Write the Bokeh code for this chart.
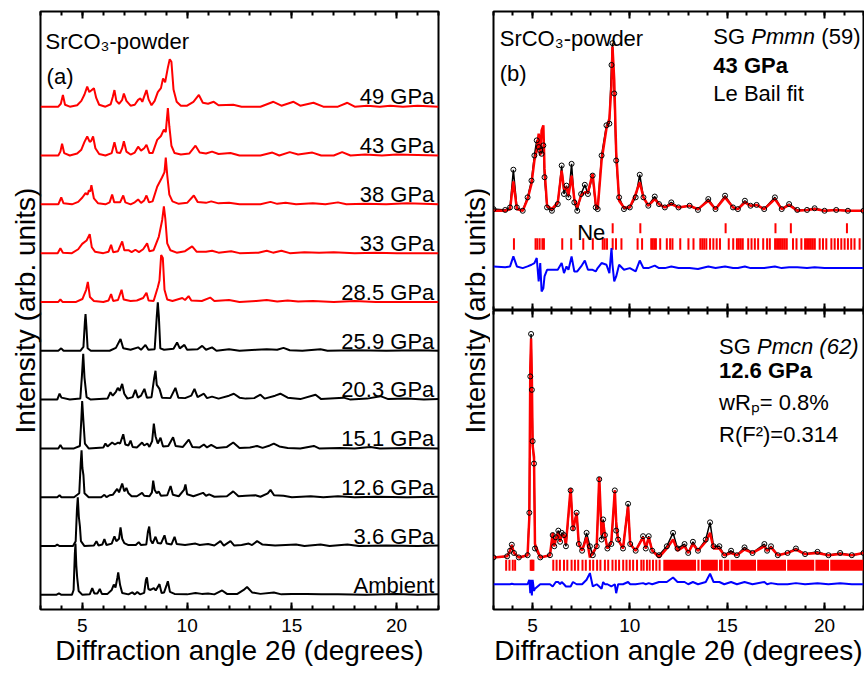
from bokeh.plotting import figure
from bokeh.models import Range1d, LinearAxis, FixedTicker
from bokeh.layouts import row, column
from bokeh.embed import file_html
from bokeh.resources import INLINE
from bokeh.core.properties import value

FONT = "Liberation Sans"

# ---------------- data: panel (a) stacked patterns (2theta, intensity) ----------------
pat_49 = [(3.0,0),(3.85,0.0),(3.97,0.06),(4.07,0.24),(4.17,0.04),(4.4,0.0),(4.75,0.03),(4.95,0.12),(5.1,0.25),(5.23,0.41),(5.33,0.3),(5.42,0.33),(5.55,0.38),(5.66,0.18),(5.8,0.04),(6.1,0.0),(6.35,0.05),(6.45,0.2),(6.53,0.34),(6.62,0.12),(6.75,0.06),(6.9,0.14),(6.98,0.27),(7.1,0.12),(7.3,0.02),(7.5,0.04),(7.66,0.14),(7.77,0.17),(7.86,0.1),(7.96,0.22),(8.06,0.34),(8.16,0.15),(8.3,0.03),(8.45,0.12),(8.6,0.3),(8.75,0.38),(8.85,0.58),(8.95,0.5),(9.08,0.8),(9.17,0.97),(9.25,0.92),(9.35,0.35),(9.5,0.1),(9.7,0.02),(10.0,0.02),(10.3,0.1),(10.56,0.24),(10.75,0.08),(11.0,0.06),(11.27,0.1),(11.5,0.03),(12.2,0.04),(12.6,0.0),(13.5,0.0),(14.12,0.1),(14.5,0.02),(15.08,0.1),(15.4,0.02),(16.03,0.08),(16.5,0.0),(17.2,0.0),(17.65,0.08),(18.0,0.0),(18.6,0.02),(19.2,0.0),(19.7,0.02),(20.3,0.0),(21.0,0.02),(22.0,0.0)]
pat_43 = [(3.0,0),(3.85,0.0),(3.95,0.08),(4.03,0.24),(4.13,0.05),(4.4,0.0),(4.75,0.04),(4.95,0.12),(5.1,0.28),(5.23,0.39),(5.35,0.28),(5.42,0.3),(5.51,0.39),(5.62,0.15),(5.8,0.03),(6.1,0.0),(6.4,0.05),(6.53,0.27),(6.65,0.06),(6.8,0.05),(6.9,0.15),(6.98,0.29),(7.1,0.08),(7.3,0.02),(7.5,0.06),(7.66,0.18),(7.8,0.1),(7.95,0.15),(8.06,0.22),(8.2,0.05),(8.35,0.05),(8.57,0.32),(8.75,0.4),(8.89,0.53),(8.98,0.48),(9.08,0.97),(9.15,0.6),(9.25,0.2),(9.4,0.05),(9.7,0.02),(10.1,0.04),(10.4,0.2),(10.6,0.06),(10.9,0.04),(11.19,0.08),(11.5,0.03),(12.07,0.05),(12.5,0.0),(13.5,0.0),(14.07,0.06),(14.4,0.0),(14.9,0.07),(15.3,0.02),(15.98,0.06),(16.4,0.0),(17.0,0.0),(17.4,0.07),(17.8,0.0),(18.5,0.02),(19.3,0.0),(20.0,0.02),(21.0,0.01),(22.0,0.0)]
pat_38 = [(3.0,0),(3.85,0.0),(3.99,0.14),(4.1,0.02),(4.5,0.0),(4.8,0.05),(5.0,0.14),(5.15,0.23),(5.25,0.2),(5.31,0.29),(5.37,0.26),(5.43,0.39),(5.55,0.12),(5.75,0.02),(6.1,0.0),(6.3,0.04),(6.42,0.2),(6.52,0.04),(6.8,0.04),(6.95,0.18),(7.05,0.04),(7.3,0.0),(7.5,0.04),(7.66,0.1),(7.8,0.03),(7.95,0.08),(8.06,0.18),(8.18,0.04),(8.35,0.06),(8.57,0.36),(8.8,0.55),(8.92,0.66),(8.98,0.96),(9.05,0.6),(9.15,0.2),(9.3,0.06),(9.6,0.01),(10.0,0.03),(10.32,0.18),(10.5,0.05),(10.9,0.03),(11.15,0.06),(11.5,0.02),(12.0,0.03),(12.5,0.0),(13.5,0.0),(13.98,0.05),(14.3,0.01),(14.7,0.03),(15.2,0.0),(16.0,0.02),(16.6,0.0),(17.2,0.04),(17.6,0.0),(18.5,0.01),(19.5,0.0),(20.5,0.02),(22.0,0.0)]
pat_33 = [(3.0,0),(3.82,0.0),(3.95,0.1),(4.07,0.01),(4.5,0.0),(4.8,0.08),(4.99,0.19),(5.2,0.26),(5.35,0.39),(5.45,0.12),(5.6,0.03),(6.0,0.0),(6.25,0.03),(6.37,0.17),(6.47,0.02),(6.7,0.04),(6.9,0.24),(7.0,0.06),(7.2,0.06),(7.35,0.02),(7.53,0.07),(7.7,0.02),(7.9,0.08),(8.09,0.2),(8.2,0.04),(8.4,0.06),(8.65,0.34),(8.81,0.68),(8.89,0.96),(8.96,0.7),(9.05,0.2),(9.2,0.06),(9.5,0.01),(9.9,0.04),(10.24,0.14),(10.45,0.03),(10.9,0.03),(11.19,0.05),(11.5,0.01),(12.1,0.04),(12.5,0.0),(13.4,0.01),(13.8,0.05),(14.1,0.01),(14.5,0.05),(14.9,0.0),(15.6,0.02),(16.3,0.01),(17.0,0.02),(18.0,0.0),(19.0,0.01),(20.0,0.0),(22.0,0.0)]
pat_28_5 = [(3.0,0),(3.85,0.0),(3.95,0.05),(4.05,0.0),(4.7,0.0),(5.0,0.06),(5.18,0.25),(5.26,0.41),(5.36,0.1),(5.55,0.02),(6.0,0.0),(6.25,0.03),(6.37,0.16),(6.47,0.02),(6.7,0.04),(6.87,0.25),(6.97,0.05),(7.3,0.02),(7.6,0.03),(7.9,0.08),(8.06,0.19),(8.16,0.03),(8.4,0.02),(8.6,0.3),(8.68,0.44),(8.76,0.96),(8.84,0.9),(8.92,0.25),(9.05,0.05),(9.3,0.02),(9.77,0.08),(9.9,0.04),(10.07,0.12),(10.2,0.03),(10.7,0.02),(11.1,0.09),(11.3,0.02),(12.0,0.04),(12.5,0.0),(13.3,0.02),(13.8,0.04),(14.3,0.01),(14.8,0.03),(15.3,0.01),(16.0,0.02),(17.0,0.0),(18.0,0.02),(19.0,0.0),(22.0,0.0)]
pat_25_9 = [(3.0,0),(3.85,0.0),(3.99,0.05),(4.1,0.0),(4.9,0.0),(5.05,0.08),(5.12,0.6),(5.15,0.75),(5.19,0.5),(5.25,0.05),(5.4,0.0),(6.3,0.0),(6.6,0.06),(6.82,0.24),(6.95,0.05),(7.3,0.02),(7.66,0.07),(7.8,0.02),(8.01,0.12),(8.15,0.02),(8.45,0.03),(8.55,0.7),(8.6,0.99),(8.65,0.7),(8.72,0.05),(8.9,0.02),(9.35,0.04),(9.52,0.17),(9.65,0.05),(9.87,0.12),(10.0,0.02),(10.5,0.03),(10.72,0.1),(10.9,0.02),(11.19,0.07),(11.4,0.0),(12.0,0.03),(12.5,0.0),(13.3,0.02),(13.8,0.03),(14.3,0.02),(14.6,0.06),(14.9,0.01),(15.5,0.0),(16.37,0.03),(16.7,0.0),(18.0,0.01),(19.5,0.0),(21.0,0.01),(22.0,0.0)]
pat_20_3 = [(3.0,0),(3.8,0.0),(3.91,0.12),(4.0,0.04),(4.4,0.0),(4.9,0.02),(4.98,0.5),(5.04,0.94),(5.1,0.45),(5.2,0.05),(5.4,0.0),(6.2,0.02),(6.34,0.15),(6.45,0.08),(6.6,0.16),(6.69,0.24),(6.78,0.18),(6.9,0.32),(7.0,0.12),(7.15,0.02),(7.4,0.05),(7.53,0.2),(7.65,0.04),(7.8,0.08),(7.96,0.22),(8.08,0.04),(8.3,0.05),(8.43,0.45),(8.49,0.59),(8.55,0.3),(8.68,0.22),(8.8,0.04),(9.2,0.03),(9.44,0.24),(9.58,0.04),(9.9,0.03),(10.2,0.08),(10.35,0.22),(10.5,0.05),(10.8,0.12),(10.95,0.03),(11.19,0.06),(11.5,0.02),(12.0,0.08),(12.23,0.12),(12.5,0.04),(12.8,0.02),(13.2,0.03),(13.5,0.1),(13.7,0.02),(14.2,0.08),(14.45,0.12),(14.8,0.04),(15.4,0.01),(16.13,0.1),(16.4,0.01),(17.47,0.04),(17.8,0.0),(18.6,0.02),(19.23,0.07),(19.6,0.01),(20.5,0.02),(21.3,0.0),(22.0,0.01)]
pat_15_1 = [(3.0,0),(3.85,0.0),(3.95,0.07),(4.05,0.0),(4.6,0.0),(4.88,0.05),(4.95,0.6),(4.99,0.97),(5.05,0.55),(5.12,0.1),(5.3,0.0),(6.0,0.02),(6.1,0.1),(6.2,0.04),(6.42,0.12),(6.55,0.08),(6.7,0.12),(6.8,0.1),(6.95,0.29),(7.05,0.08),(7.2,0.06),(7.3,0.16),(7.4,0.03),(7.6,0.02),(7.85,0.12),(7.95,0.06),(8.1,0.1),(8.2,0.03),(8.33,0.15),(8.41,0.51),(8.49,0.25),(8.6,0.1),(8.73,0.22),(8.85,0.04),(9.1,0.05),(9.33,0.23),(9.45,0.05),(9.8,0.03),(10.08,0.18),(10.25,0.03),(10.6,0.02),(10.8,0.08),(10.95,0.02),(11.15,0.07),(11.4,0.01),(11.9,0.03),(12.2,0.12),(12.5,0.01),(13.0,0.02),(13.34,0.05),(13.6,0.01),(13.95,0.06),(14.14,0.1),(14.4,0.04),(14.8,0.01),(15.4,0.0),(16.05,0.05),(16.3,0.0),(17.3,0.01),(18.0,0.0),(18.75,0.03),(19.2,0.0),(20.5,0.01),(22.0,0.0)]
pat_12_6 = [(3.0,0),(3.8,0.0),(3.91,0.04),(4.0,0.0),(4.6,0.0),(4.85,0.08),(4.92,0.7),(4.96,0.96),(5.0,0.6),(5.05,0.45),(5.1,0.08),(5.3,0.0),(5.9,0.0),(6.05,0.05),(6.15,0.0),(6.3,0.04),(6.45,0.05),(6.66,0.17),(6.75,0.1),(6.9,0.28),(7.0,0.12),(7.1,0.19),(7.2,0.08),(7.35,0.02),(7.6,0.02),(7.85,0.09),(7.95,0.03),(8.2,0.02),(8.32,0.1),(8.38,0.34),(8.45,0.15),(8.55,0.08),(8.64,0.12),(8.75,0.03),(9.05,0.04),(9.21,0.23),(9.32,0.05),(9.6,0.02),(9.85,0.15),(9.92,0.26),(10.0,0.06),(10.3,0.02),(10.76,0.09),(10.9,0.03),(11.05,0.06),(11.3,0.01),(11.9,0.02),(12.2,0.12),(12.45,0.02),(12.8,0.03),(13.26,0.04),(13.5,0.01),(13.85,0.08),(13.98,0.15),(14.15,0.04),(14.6,0.03),(15.0,0.0),(15.9,0.02),(16.5,0.0),(17.2,0.02),(18.0,0.0),(19.0,0.01),(20.5,0.0),(22.0,0.01)]
pat_3_6 = [(3.0,0),(3.7,0.0),(3.8,0.03),(3.9,0.0),(4.55,0.0),(4.68,0.1),(4.74,0.75),(4.78,1.0),(4.83,0.6),(4.88,0.41),(4.93,0.1),(5.1,0.0),(5.55,0.01),(5.67,0.1),(5.77,0.01),(5.95,0.03),(6.05,0.14),(6.15,0.02),(6.4,0.05),(6.53,0.2),(6.62,0.1),(6.75,0.15),(6.82,0.38),(6.9,0.15),(7.0,0.06),(7.2,0.02),(7.55,0.02),(7.69,0.08),(7.8,0.02),(8.05,0.03),(8.13,0.3),(8.19,0.4),(8.26,0.12),(8.35,0.05),(8.49,0.19),(8.6,0.06),(8.75,0.05),(8.92,0.22),(9.02,0.05),(9.25,0.03),(9.4,0.19),(9.5,0.04),(9.9,0.02),(10.4,0.05),(10.6,0.02),(11.0,0.04),(11.3,0.01),(11.59,0.1),(11.75,0.01),(12.07,0.1),(12.25,0.01),(12.6,0.02),(12.94,0.05),(13.1,0.02),(13.34,0.1),(13.6,0.03),(14.2,0.01),(15.2,0.03),(15.6,0.0),(16.37,0.03),(16.8,0.0),(17.65,0.03),(18.2,0.0),(19.5,0.01),(21.0,0.0),(22.0,0.01)]
pat_amb = [(3.0,0),(3.75,0.0),(3.88,0.03),(4.0,0.0),(4.5,0.0),(4.58,0.1),(4.64,0.85),(4.67,1.05),(4.71,0.6),(4.75,0.36),(4.82,0.08),(5.0,0.0),(5.35,0.01),(5.47,0.14),(5.57,0.03),(5.72,0.03),(5.83,0.12),(5.93,0.02),(6.2,0.02),(6.4,0.1),(6.5,0.21),(6.58,0.15),(6.67,0.35),(6.71,0.46),(6.8,0.2),(6.9,0.04),(7.2,0.01),(7.38,0.05),(7.5,0.01),(7.62,0.06),(7.75,0.01),(7.95,0.04),(8.03,0.3),(8.08,0.36),(8.15,0.12),(8.25,0.1),(8.41,0.14),(8.5,0.09),(8.68,0.22),(8.78,0.04),(8.9,0.05),(9.02,0.2),(9.08,0.28),(9.18,0.06),(9.4,0.02),(10.0,0.01),(10.4,0.04),(10.7,0.02),(11.0,0.03),(11.3,0.01),(11.67,0.09),(11.9,0.02),(12.4,0.02),(12.7,0.1),(12.86,0.16),(13.1,0.05),(13.5,0.02),(14.14,0.05),(14.5,0.01),(15.0,0.02),(15.7,0.02),(16.4,0.01),(17.2,0.01),(18.5,0.0),(20.0,0.02),(21.0,0.0),(22.0,0.01)]

patterns_a = [pat_amb, pat_3_6, pat_12_6, pat_15_1, pat_20_3, pat_25_9, pat_28_5, pat_33, pat_38, pat_43, pat_49]
pressure_labels = ["Ambient", "3.6 GPa", "12.6 GPa", "15.1 GPa", "20.3 GPa", "25.9 GPa", "28.5 GPa", "33 GPa", "38 GPa", "43 GPa", "49 GPa"]
high_pressure_phase = [False, False, False, False, False, False, True, True, True, True, True]

# ---------------- data: panel (b) top, 43 GPa Le Bail fit ----------------
fit43_tth  = [3.0,3.6,3.85,4.02,4.2,4.5,4.75,4.95,5.1,5.22,5.32,5.4,5.47,5.56,5.62,5.75,6.0,6.3,6.5,6.62,6.75,6.85,7.01,7.15,7.3,7.5,7.69,7.85,8.09,8.25,8.35,8.55,8.8,8.95,9.06,9.11,9.2,9.3,9.45,9.7,10.0,10.3,10.51,10.7,10.95,11.28,11.5,11.8,12.13,12.5,13.07,13.5,14.03,14.4,14.89,15.3,15.55,15.91,16.2,16.51,16.9,17.45,17.8,18.18,18.6,19.1,19.49,20.0,20.6,21.2,22.0]
fit43_obs  = [0.01,0.005,0.02,0.245,0.02,0.0,0.08,0.18,0.33,0.42,0.38,0.36,0.34,0.39,0.2,0.02,0.0,0.04,0.27,0.1,0.15,0.08,0.28,0.05,0.0,0.1,0.155,0.1,0.21,0.02,0.01,0.33,0.51,0.52,0.87,1.0,0.7,0.3,0.08,0.01,0.02,0.08,0.215,0.08,0.03,0.085,0.04,0.02,0.05,0.02,0.03,0.005,0.07,0.01,0.09,0.02,0.01,0.06,0.03,0.035,0.01,0.08,0.01,0.04,0.005,0.005,0.015,0.0,0.005,0.0,0.0]
fit43_calc = [0.0,0.0,0.01,0.175,0.01,0.0,0.07,0.16,0.3,0.36,0.46,0.33,0.48,0.51,0.25,0.03,0.01,0.05,0.24,0.13,0.14,0.09,0.21,0.07,0.02,0.09,0.11,0.11,0.22,0.04,0.01,0.3,0.49,0.55,0.75,0.98,0.78,0.35,0.06,0.02,0.02,0.1,0.17,0.08,0.03,0.07,0.04,0.02,0.04,0.02,0.03,0.01,0.06,0.01,0.08,0.02,0.01,0.05,0.03,0.035,0.01,0.07,0.01,0.035,0.0,0.005,0.01,0.0,0.005,0.0,0.0]
ne_reflections = [9.12, 10.54, 14.92, 17.48, 18.27, 21.15]
pmmn_reflections = [4.05,5.16,5.25,5.37,5.51,5.59,6.53,6.99,7.61,8.1,8.61,8.71,8.83,9.12,9.29,9.57,10.4,10.63,11.1,11.18,11.26,11.34,11.56,11.9,12.07,12.19,12.59,13.01,13.27,13.62,13.72,13.82,13.93,14.12,14.29,14.46,14.63,15.08,15.31,15.5,15.6,15.7,15.8,16.08,16.25,16.42,16.59,16.85,17.05,17.19,17.46,17.56,17.66,17.76,17.86,17.96,18.06,18.38,18.56,18.81,19.0,19.1,19.2,19.3,19.4,19.5,19.75,19.92,20.09,20.35,20.52,20.69,20.86,21.03,21.2,21.37,21.54,21.8]

# ---------------- data: panel (b) bottom, 12.6 GPa Rietveld fit ----------------
fit126_tth  = [3.0,3.7,3.85,3.94,4.05,4.3,4.75,4.84,4.89,4.93,4.97,5.01,5.08,5.13,5.4,5.9,6.04,6.12,6.2,6.33,6.42,6.5,6.62,6.72,6.96,7.08,7.27,7.38,7.55,7.78,7.95,8.1,8.3,8.43,8.55,8.63,8.72,8.85,9.05,9.23,9.3,9.4,9.65,9.91,10.02,10.3,10.68,10.82,10.97,11.15,11.5,11.9,12.22,12.45,12.81,13.0,13.24,13.5,13.9,14.12,14.3,14.6,14.85,15.2,15.5,15.89,16.3,16.91,17.05,17.25,17.6,18.1,18.53,19.0,19.64,20.2,20.8,21.4,22.0]
fit126_obs  = [0.0,0.005,0.03,0.057,0.02,0.0,0.01,0.2,0.81,1.0,0.75,0.52,0.42,0.04,0.0,0.01,0.1,0.05,0.09,0.12,0.07,0.11,0.1,0.05,0.3,0.13,0.2,0.06,0.03,0.11,0.05,0.01,0.05,0.35,0.08,0.17,0.1,0.04,0.06,0.3,0.12,0.08,0.04,0.24,0.06,0.03,0.095,0.04,0.095,0.03,0.01,0.05,0.11,0.04,0.06,0.02,0.07,0.03,0.08,0.157,0.05,0.05,0.01,0.03,0.01,0.045,0.02,0.06,0.03,0.05,0.01,0.02,0.04,0.015,0.025,0.01,0.02,0.01,0.02]
fit126_calc = [0.0,0.005,0.03,0.055,0.02,0.0,0.01,0.18,0.85,0.98,0.8,0.5,0.45,0.06,0.0,0.01,0.11,0.05,0.08,0.11,0.07,0.1,0.1,0.06,0.31,0.12,0.2,0.06,0.03,0.09,0.0,0.02,0.05,0.36,0.1,0.16,0.1,0.04,0.07,0.3,0.16,0.08,0.04,0.23,0.06,0.03,0.09,0.04,0.09,0.03,0.0,0.04,0.08,0.03,0.05,0.02,0.06,0.03,0.07,0.11,0.04,0.04,0.01,0.02,0.01,0.035,0.02,0.05,0.03,0.045,0.01,0.02,0.035,0.015,0.02,0.01,0.015,0.01,0.02]
pmcn_reflections = [3.65,3.82,3.99,4.11,4.91,4.96,5.0,5.05,6.07,6.24,6.41,6.62,6.79,7.01,7.18,7.35,7.57,7.74,7.95,8.12,8.32,8.49,8.72,8.89,9.11,9.28,9.45,9.66,9.83,10.0,10.17,10.37,10.59,10.71,10.88,11.02,11.19,11.36,11.53]
pmcn_dense_ranges = [(11.72,13.40),(13.47,13.58),(13.65,14.52),(14.58,14.77),(14.83,15.11),(15.17,16.48),(16.54,18.02),(18.08,19.47),(19.53,20.23),(20.29,22.0)]

major_ticks = [5, 10, 15, 20]
minor_ticks = list(range(3, 23))
x_title = "Diffraction angle 2θ (degrees)"
y_title = "Intensity (arb. units)"

RED = "#ff0000"
BLUE = "#0000ff"
TOTAL_H = 676


def tick_axis(labels):
    ax = LinearAxis(ticker=FixedTicker(ticks=major_ticks, minor_ticks=minor_ticks))
    ax.major_tick_in = 7
    ax.major_tick_out = 0
    ax.minor_tick_in = 4
    ax.minor_tick_out = 0
    ax.major_tick_line_width = 2
    ax.minor_tick_line_width = 2
    ax.major_tick_line_color = "black"
    ax.minor_tick_line_color = "black"
    ax.axis_line_color = None
    if labels:
        ax.major_label_text_font = FONT
        ax.major_label_text_font_size = "19px"
        ax.major_label_text_color = "black"
        ax.major_label_standoff = 9
        ax.axis_label = x_title
        ax.axis_label_text_font = FONT
        ax.axis_label_text_font_size = "28px"
        ax.axis_label_text_font_style = "normal"
        ax.axis_label_text_color = "black"
        ax.axis_label_standoff = 0
    else:
        ax.major_label_text_color = None
        ax.major_label_text_font_size = "0px"
        ax.major_label_standoff = 0
    return ax


def title_axis():
    ax = LinearAxis(ticker=FixedTicker(ticks=[]), axis_label=y_title)
    ax.axis_label_text_font = FONT
    ax.axis_label_text_font_size = "28px"
    ax.axis_label_text_font_style = "normal"
    ax.axis_label_text_color = "black"
    ax.axis_label_standoff = 0
    ax.major_label_standoff = 0
    ax.major_label_text_color = None
    ax.major_label_text_font_size = "0px"
    ax.major_tick_in = 0
    ax.major_tick_out = 0
    ax.minor_tick_in = 0
    ax.minor_tick_out = 0
    ax.axis_line_color = None
    return ax


def base_fig(width, height, yr, **borders):
    p = figure(width=width, height=height, x_range=Range1d(3, 22), y_range=yr,
               x_axis_type=None, y_axis_type=None,
               output_backend="svg", toolbar_location=None, **borders)
    p.outline_line_color = "black"
    p.outline_line_width = 2
    p.outline_line_alpha = 1.0
    p.background_fill_color = "white"
    p.border_fill_color = "white"
    return p


def add_text(p, x, y, txt, size="22px", style="normal", align="left", x_offset=0):
    p.text(x=[x], y=[y], text=[txt], text_font=value(FONT), text_font_size=size,
           text_font_style=style, text_align=align, text_baseline="alphabetic",
           text_color="black", x_offset=x_offset)


# ---------------- panel (a) ----------------
pa = base_fig(456, TOTAL_H, Range1d(-0.30, 11.95), min_border_left=40, min_border_right=18,
              min_border_top=11, min_border_bottom=67)
pa.add_layout(tick_axis(False), "above")
pa.add_layout(tick_axis(True), "below")
pa.add_layout(title_axis(), "left")

for i, (pat, lab, hp) in enumerate(zip(patterns_a, pressure_labels, high_pressure_phase)):
    xs = [a for a, b in pat]
    ys = [b + i for a, b in pat]
    pa.line(xs, ys, line_color=RED if hp else "black", line_width=2)
    add_text(pa, 21.8, i + 0.2, lab, align="right")

add_text(pa, 3.24, 11.33, "SrCO₃-powder")
add_text(pa, 3.29, 10.61, "(a)")

# ---------------- y title of panel (b): narrow canvas spanning both sub-panels ----------------
yb = figure(width=34, height=TOTAL_H, x_range=Range1d(0, 1), y_range=Range1d(0, 1),
            x_axis_type=None, y_axis_type=None, output_backend="svg", toolbar_location=None,
            min_border_left=0, min_border_right=0, min_border_top=11, min_border_bottom=67)
yb.outline_line_color = None
yb.add_layout(title_axis(), "left")

# ---------------- panel (b) top ----------------
pt = base_fig(374, 310, Range1d(-0.595, 1.189), min_border_left=3, min_border_right=1,
              min_border_top=11, min_border_bottom=0)
pt.add_layout(tick_axis(False), "above")
pt.add_layout(tick_axis(False), "below")

diff43 = [o - c - 0.342 for o, c in zip(fit43_obs, fit43_calc)]
pt.line(fit43_tth, fit43_obs, line_color="black", line_width=1.5)
pt.line(fit43_tth, fit43_calc, line_color=RED, line_width=2.5)
pt.scatter(fit43_tth, fit43_obs, marker="circle", size=5, fill_color=None,
           line_color="black", line_width=1)
pt.segment(x0=ne_reflections, y0=[-0.074] * len(ne_reflections), x1=ne_reflections,
           y1=[-0.134] * len(ne_reflections), line_color=RED, line_width=2)
pt.segment(x0=pmmn_reflections, y0=[-0.164] * len(pmmn_reflections), x1=pmmn_reflections,
           y1=[-0.233] * len(pmmn_reflections), line_color=RED, line_width=2)
pt.line(fit43_tth, diff43, line_color=BLUE, line_width=2)

add_text(pt, 3.32, 1.028, "SrCO₃-powder")
add_text(pt, 3.32, 0.819, "(b)")
add_text(pt, 14.29, 1.04, "SG ")
add_text(pt, 14.29, 1.04, "Pmmn", style="italic", x_offset=38)
add_text(pt, 14.29, 1.04, "(59)", x_offset=108)
add_text(pt, 14.29, 0.867, "43 GPa", style="bold")
add_text(pt, 14.29, 0.70, "Le Bail fit")
add_text(pt, 7.3, -0.13, "Ne")

# ---------------- panel (b) bottom ----------------
pb = base_fig(374, TOTAL_H - 310, Range1d(-0.233, 1.105), min_border_left=3,
              min_border_right=1, min_border_top=0, min_border_bottom=67)
pb.add_layout(tick_axis(False), "above")
pb.add_layout(tick_axis(True), "below")

diff126 = [o - c - 0.12 for o, c in zip(fit126_obs, fit126_calc)]
pb.line(fit126_tth, fit126_obs, line_color="black", line_width=1.5)
pb.line(fit126_tth, fit126_calc, line_color=RED, line_width=2.5)
pb.scatter(fit126_tth, fit126_obs, marker="circle", size=5, fill_color=None,
           line_color="black", line_width=1)
pb.segment(x0=pmcn_reflections, y0=[-0.01] * len(pmcn_reflections), x1=pmcn_reflections,
           y1=[-0.06] * len(pmcn_reflections), line_color=RED, line_width=2)
pb.quad(left=[a for a, b in pmcn_dense_ranges], right=[b for a, b in pmcn_dense_ranges],
        bottom=[-0.06] * len(pmcn_dense_ranges), top=[-0.01] * len(pmcn_dense_ranges),
        fill_color=RED, line_color=None)
pb.line(fit126_tth, diff126, line_color=BLUE, line_width=2)

add_text(pb, 14.58, 0.943, "SG ")
add_text(pb, 14.58, 0.943, "Pmcn (62)", style="italic", x_offset=38)
add_text(pb, 14.58, 0.836, "12.6 GPa", style="bold")
add_text(pb, 14.58, 0.692, "wRₚ= 0.8%")
add_text(pb, 14.58, 0.548, "R(F²)=0.314")

layout = row(pa, yb, column(pt, pb))
open("out.html", "w").write(file_html(layout, INLINE))
